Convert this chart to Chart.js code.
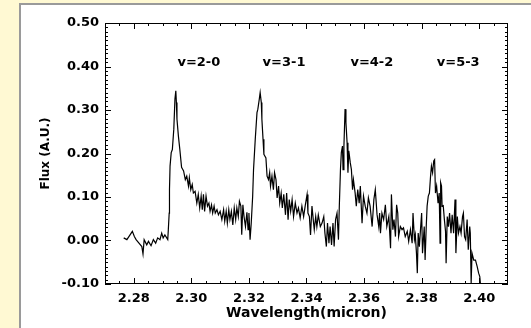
<!DOCTYPE html>
<html>
<head>
<meta charset="utf-8">
<script src="https://cdn.jsdelivr.net/npm/chart.js@4"></script>
<style>
html, body { margin: 0; padding: 0; background: #FFF9D3; }
canvas { display: block; }
</style>
</head>
<body>
<canvas id="grafico" width="531" height="328"></canvas>
<script>
// espectro CO (bandas v=2-0 ... v=5-3)
var wavelength = [
  2.2765, 2.2776, 2.2787, 2.2795, 2.2802, 2.2808, 2.2818, 2.2828, 2.2832, 2.2836,
  2.2845, 2.2851, 2.2860, 2.2868, 2.2876, 2.2883, 2.2891, 2.2897, 2.2902, 2.2908,
  2.2918, 2.2920, 2.2923, 2.2924, 2.2926, 2.2930, 2.2934, 2.2939, 2.2943, 2.2946,
  2.2948, 2.2950, 2.2955, 2.2960, 2.2966, 2.2973, 2.2979, 2.2984, 2.2990, 2.2993,
  2.2998, 2.3003, 2.3007, 2.3013, 2.3019, 2.3024, 2.3029, 2.3034, 2.3038, 2.3042,
  2.3046, 2.3051, 2.3056, 2.3061, 2.3065, 2.3070, 2.3074, 2.3079, 2.3083, 2.3089,
  2.3094, 2.3100, 2.3106, 2.3112, 2.3116, 2.3121, 2.3125, 2.3130, 2.3134, 2.3139,
  2.3144, 2.3149, 2.3154, 2.3158, 2.3163, 2.3167, 2.3172, 2.3175, 2.3179, 2.3183,
  2.3188, 2.3193, 2.3197, 2.3200, 2.3204, 2.3208, 2.3213, 2.3216, 2.3222, 2.3228,
  2.3231, 2.3236, 2.3239, 2.3243, 2.3245, 2.3249, 2.3252, 2.3259, 2.3263, 2.3268,
  2.3272, 2.3275, 2.3280, 2.3285, 2.3289, 2.3294, 2.3298, 2.3303, 2.3307, 2.3312,
  2.3316, 2.3321, 2.3327, 2.3331, 2.3336, 2.3340, 2.3345, 2.3350, 2.3355, 2.3361,
  2.3367, 2.3372, 2.3378, 2.3384, 2.3390, 2.3396, 2.3402, 2.3405, 2.3410, 2.3414,
  2.3419, 2.3424, 2.3427, 2.3432, 2.3436, 2.3441, 2.3448, 2.3454, 2.3460, 2.3464,
  2.3469, 2.3473, 2.3478, 2.3482, 2.3487, 2.3492, 2.3496, 2.3501, 2.3506, 2.3511,
  2.3514, 2.3518, 2.3521, 2.3525, 2.3527, 2.3530, 2.3534, 2.3537, 2.3541, 2.3544,
  2.3547, 2.3552, 2.3556, 2.3560, 2.3563, 2.3569, 2.3573, 2.3578, 2.3583, 2.3587,
  2.3593, 2.3598, 2.3604, 2.3610, 2.3615, 2.3621, 2.3628, 2.3634, 2.3639, 2.3645,
  2.3651, 2.3654, 2.3657, 2.3662, 2.3668, 2.3674, 2.3679, 2.3686, 2.3692, 2.3695,
  2.3700, 2.3704, 2.3709, 2.3713, 2.3717, 2.3720, 2.3726, 2.3732, 2.3737, 2.3743,
  2.3750, 2.3755, 2.3761, 2.3767, 2.3770, 2.3775, 2.3778, 2.3782, 2.3785, 2.3788,
  2.3792, 2.3796, 2.3800, 2.3803, 2.3809, 2.3812, 2.3816, 2.3819, 2.3823, 2.3827,
  2.3831, 2.3834, 2.3838, 2.3842, 2.3845, 2.3848, 2.3852, 2.3857, 2.3861, 2.3864,
  2.3866, 2.3869, 2.3871, 2.3875, 2.3879, 2.3883, 2.3885, 2.3889, 2.3893, 2.3897,
  2.3902, 2.3906, 2.3911, 2.3916, 2.3919, 2.3924, 2.3928, 2.3933, 2.3937, 2.3942,
  2.3945, 2.3949, 2.3953, 2.3958, 2.3962, 2.3967, 2.3969, 2.3972, 2.3975, 2.3981,
  2.3987, 2.3993, 2.3998, 2.4002, 2.4004, 2.4007
];
var flux = [
  0.006, 0.002, 0.013, 0.021, 0.009, 0.002, -0.006, -0.014, -0.031, 0.002,
  -0.010, -0.002, -0.012, 0.002, -0.006, 0.006, 0.002, 0.017, 0.006, 0.013,
  0.002, 0.025, 0.063, 0.117, 0.171, 0.202, 0.209, 0.256, 0.325, 0.344,
  0.317, 0.279, 0.240, 0.209, 0.168, 0.160, 0.140, 0.148, 0.125, 0.144,
  0.117, 0.129, 0.109, 0.113, 0.086, 0.106, 0.075, 0.102, 0.071, 0.106,
  0.067, 0.102, 0.079, 0.086, 0.067, 0.082, 0.063, 0.079, 0.063, 0.071,
  0.059, 0.067, 0.048, 0.071, 0.044, 0.067, 0.040, 0.071, 0.048, 0.067,
  0.036, 0.075, 0.048, 0.075, 0.055, 0.090, 0.079, 0.013, 0.082, 0.055,
  0.032, 0.065, 0.025, 0.063, 0.002, 0.040, 0.102, 0.163, 0.233, 0.294,
  0.302, 0.325, 0.340, 0.317, 0.279, 0.233, 0.198, 0.190, 0.148, 0.140,
  0.156, 0.125, 0.148, 0.117, 0.156, 0.140, 0.098, 0.125, 0.086, 0.109,
  0.075, 0.106, 0.059, 0.109, 0.048, 0.094, 0.067, 0.094, 0.055, 0.086,
  0.063, 0.075, 0.052, 0.079, 0.055, 0.082, 0.106, 0.063, 0.055, 0.013,
  0.079, 0.044, 0.025, 0.055, 0.032, 0.059, 0.032, 0.040, 0.055, 0.017,
  -0.014, 0.040, -0.006, 0.032, -0.010, 0.040, -0.014, 0.048, 0.063, 0.002,
  0.079, 0.163, 0.202, 0.217, 0.163, 0.217, 0.302, 0.271, 0.225, 0.156,
  0.206, 0.179, 0.163, 0.117, 0.140, 0.109, 0.079, 0.117, 0.086, 0.125,
  0.040, 0.102, 0.079, 0.063, 0.098, 0.079, 0.032, 0.094, 0.117, 0.060,
  0.032, 0.063, 0.017, 0.063, 0.048, 0.082, 0.032, 0.055, -0.018, 0.106,
  0.025, 0.048, 0.009, 0.082, 0.063, 0.009, 0.032, 0.025, 0.029, 0.009,
  0.021, -0.002, 0.025, -0.006, 0.063, 0.002, 0.013, -0.029, -0.075, 0.017,
  -0.014, 0.025, 0.063, -0.029, 0.032, -0.045, 0.032, 0.079, 0.102, 0.109,
  0.148, 0.171, 0.156, 0.183, 0.186, 0.109, 0.125, 0.086, 0.109, -0.006,
  0.133, 0.125, 0.079, 0.080, 0.048, 0.021, -0.052, 0.055, 0.032, 0.063,
  0.017, 0.059, 0.017, 0.094, -0.029, 0.055, 0.017, 0.032, 0.017, 0.055,
  0.063, 0.009, 0.002, 0.048, -0.021, 0.032, 0.017, -0.098, -0.029, -0.045,
  -0.045, -0.060, -0.075, -0.083, -0.098, -0.110
];
var xTickValues = [2.28, 2.30, 2.32, 2.34, 2.36, 2.38, 2.40];
var yTickValues = [-0.10, 0.00, 0.10, 0.20, 0.30, 0.40, 0.50];
var bandLabels = ['v=2-0', 'v=3-1', 'v=4-2', 'v=5-3'];
var bandX = [2.3026, 2.3322, 2.3627, 2.3927];
var bandY = 0.41;

var fuente = 'DejaVu Sans';

var puntos = [];
for (var i in wavelength) {
    puntos.push({ x: wavelength[i], y: flux[i] });
}

// fondo amarillo + marco, caja de ejes con marcas hacia dentro (estilo IDL)
var marco = {
    id: 'marco',
    beforeDraw: function(chart) {
        var ctx = chart.ctx;
        ctx.save();
        ctx.fillStyle = '#FFF9D3';
        ctx.fillRect(0, 0, chart.width, chart.height);
        ctx.fillStyle = '#ffffff';
        ctx.fillRect(20, 4, chart.width - 20, chart.height - 4);
        ctx.strokeStyle = '#9a9a9a';
        ctx.lineWidth = 2;
        ctx.beginPath();
        ctx.moveTo(20, chart.height);
        ctx.lineTo(20, 4);
        ctx.lineTo(chart.width, 4);
        ctx.stroke();
        ctx.restore();
    },
    afterDraw: function(chart) {
        var ctx = chart.ctx;
        var a = chart.chartArea;
        var sx = chart.scales.x, sy = chart.scales.y;
        ctx.save();
        ctx.strokeStyle = '#000';
        ctx.lineWidth = 1;
        ctx.strokeRect(a.left + 0.5, a.top + 0.5, a.right - a.left - 1, a.bottom - a.top - 1);
        ctx.beginPath();
        // eje y: menores cada 0.01
        for (var k = 0; k <= 60; k++) {
            var py = Math.round(sy.getPixelForValue(sy.min + k * 0.01)) + 0.5;
            var ly = (k % 10 === 0) ? 6 : 3;
            ctx.moveTo(a.left, py); ctx.lineTo(a.left + ly, py);
            ctx.moveTo(a.right, py); ctx.lineTo(a.right - ly, py);
        }
        // eje x: menores cada 0.005
        for (var j = 1; j < 28; j++) {
            var px = Math.round(sx.getPixelForValue(sx.min + j * 0.005)) + 0.5;
            var lx = ((j - 2) % 4 === 0) ? 6 : 3;
            ctx.moveTo(px, a.bottom); ctx.lineTo(px, a.bottom - lx);
            ctx.moveTo(px, a.top); ctx.lineTo(px, a.top + lx);
        }
        ctx.stroke();
        ctx.fillStyle = '#000';
        ctx.font = 'bold 13px "' + fuente + '"';
        ctx.textAlign = 'center';
        ctx.textBaseline = 'middle';
        for (var b in bandLabels) {
            ctx.fillText(bandLabels[b], sx.getPixelForValue(bandX[b]), sy.getPixelForValue(bandY));
        }
        ctx.restore();
    }
};

var ctx = document.getElementById('grafico');
var grafico = new Chart(ctx, {
    type: 'line',
    data: {
        datasets: [{
            data: puntos,
            borderColor: '#000',
            borderWidth: 1.2,
            pointRadius: 0,
            tension: 0,
            fill: false
        }]
    },
    options: {
        responsive: false,
        animation: false,
        layout: { padding: { top: 23, right: 23, left: 0, bottom: 0 } },
        plugins: { legend: { display: false }, tooltip: { enabled: false } },
        scales: {
            x: {
                type: 'linear',
                min: 2.27,
                max: 2.41,
                grid: { display: false, drawTicks: false },
                border: { display: false },
                afterBuildTicks: function(s) { s.ticks = xTickValues.map(function(v) { return { value: v }; }); },
                afterFit: function(s) { s.height = 44; },
                ticks: {
                    autoSkip: false,
                    maxRotation: 0,
                    padding: 7,
                    color: '#000',
                    font: { family: fuente, size: 13, weight: 'bold' },
                    callback: function(v) { return Number(v).toFixed(2); }
                },
                title: {
                    display: true,
                    text: 'Wavelength(micron)',
                    color: '#000',
                    font: { family: fuente, size: 14, weight: 'bold' },
                    padding: { top: 0, bottom: 6 }
                }
            },
            y: {
                min: -0.10,
                max: 0.50,
                grid: { display: false, drawTicks: false },
                border: { display: false },
                afterBuildTicks: function(s) { s.ticks = yTickValues.map(function(v) { return { value: v }; }); },
                afterFit: function(s) { s.width = 105; },
                ticks: {
                    padding: 6,
                    color: '#000',
                    font: { family: fuente, size: 13, weight: 'bold' },
                    callback: function(v) { return Number(v).toFixed(2); }
                },
                title: {
                    display: true,
                    text: 'Flux (A.U.)',
                    color: '#000',
                    font: { family: fuente, size: 12, weight: 'bold' },
                    padding: { top: 39, bottom: 0 }
                }
            }
        }
    },
    plugins: [marco]
});
</script>
</body>
</html>
